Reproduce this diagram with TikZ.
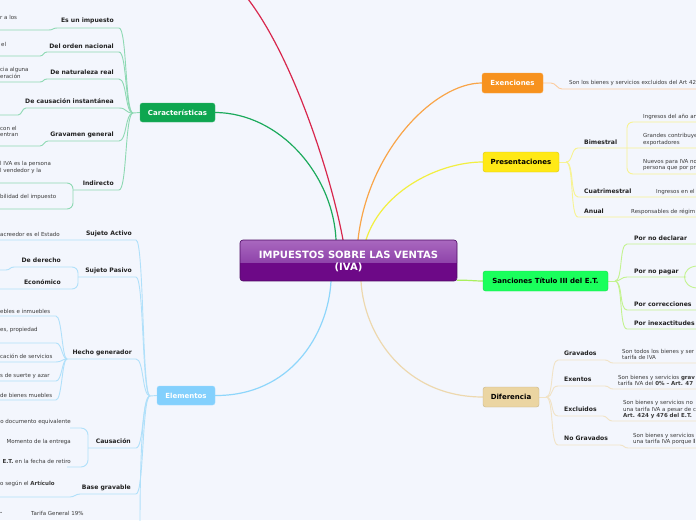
\documentclass[tikz,border=0pt]{standalone}
\usepackage{fontspec}
\setmainfont{DejaVu Sans}
\pgfdeclarelayer{back}
\pgfdeclarelayer{lines}
\pgfsetlayers{back,lines,main}
\definecolor{bgC}{HTML}{F3F6FD}
\definecolor{carC}{HTML}{0EA650}
\definecolor{carL}{HTML}{1CAA5C}
\definecolor{carS}{HTML}{8DD9B3}
\definecolor{eleC}{HTML}{83D0FD}
\definecolor{eleL}{HTML}{8ED6FB}
\definecolor{eleS}{HTML}{B0E0FA}
\definecolor{exeC}{HTML}{F7921E}
\definecolor{exeL}{HTML}{F9A548}
\definecolor{exeS}{HTML}{FCCB9C}
\definecolor{preC}{HTML}{FFE916}
\definecolor{preL}{HTML}{F2EF40}
\definecolor{preS}{HTML}{F7F392}
\definecolor{sanC}{HTML}{1AFF5C}
\definecolor{sanL}{HTML}{A9EF5C}
\definecolor{sanS}{HTML}{C3F38F}
\definecolor{difC}{HTML}{EBD5A2}
\definecolor{difL}{HTML}{EDD8AE}
\definecolor{difS}{HTML}{F1E3C6}
\definecolor{redL}{HTML}{D8274D}
\definecolor{rootTop}{HTML}{A968BF}
\definecolor{rootMid}{HTML}{8F44AA}
\definecolor{rootBot}{HTML}{6D0987}
\definecolor{rootBorder}{HTML}{4E0A63}
\definecolor{lblC}{HTML}{222222}
\definecolor{leafC}{HTML}{3A3A3A}
\tikzset{
  mnode/.style={rounded corners=2.5pt, inner sep=0pt, font=\bfseries\fontsize{7}{8}\selectfont},
  lbl/.style={inner sep=0pt, font=\bfseries\fontsize{6.1}{7}\selectfont, text=lblC, text height=4.5pt, text depth=1.3pt},
  lblL/.style={lbl, anchor=east},
  lblR/.style={lbl, anchor=west},
  leaf/.style={inner sep=0pt, font=\fontsize{5.5}{6.8}\selectfont, text=leafC, align=left, anchor=west},
  leafE/.style={leaf, anchor=east, align=right},
  mainline/.style={line width=1.2pt},
  subline/.style={line width=0.9pt}
}
\begin{document}
\begin{tikzpicture}[x=1pt,y=-1pt]
\begin{pgfonlayer}{back}
\fill[bgC] (0,0) rectangle (696,520);
\end{pgfonlayer}
\useasboundingbox (0,0) rectangle (696,520);

% ---------- root ----------
\node[minimum width=217pt, minimum height=41pt, inner sep=0pt] (root) at (348.5,260.5) {};
\begin{scope}
\clip[rounded corners=3pt] (240,240) rectangle (457,281);
\fill[rootBot] (240,240) rectangle (457,281);
\shade[top color=rootTop, bottom color=rootMid] (240,240) rectangle (457,262);
\end{scope}
\draw[rootBorder, rounded corners=3pt, line width=0.6pt] (240,240) rectangle (457,281);
\node[font=\bfseries\fontsize{10}{12}\selectfont, text=white, align=center, inner sep=0pt] (roottxt) at (348.5,261.5) {IMPUESTOS SOBRE LAS VENTAS\\(IVA)};

% ---------- main nodes ----------
\node[mnode, fill=carC, draw=carC!80!white, text=white, minimum width=75pt, minimum height=19pt] (car) at (177.5,112.5) {Características};
\node[mnode, fill=eleC, draw=eleC!80!white, text=white, minimum width=58pt, minimum height=19pt] (ele) at (186,395.5) {Elementos};
\node[mnode, fill=exeC, draw=exeC!80!white, text=white, minimum width=61pt, minimum height=20pt] (exe) at (512.5,83) {Exenciones};
\node[mnode, fill=preC, draw=preC!85!black, text=black, minimum width=76pt, minimum height=20pt] (pre) at (521,162) {Presentaciones};
\node[mnode, fill=sanC, draw=sanC!85!black, text=black, minimum width=125pt, minimum height=20pt] (san) at (545.5,281) {Sanciones Título III del E.T.};
\node[mnode, fill=difC, draw=difC!85!black, text=black, minimum width=56pt, minimum height=20pt] (dif) at (511,397) {Diferencia};

% ---------- main connectors ----------
\begin{pgfonlayer}{lines}
\coordinate (redend) at (244,-6);
\draw[mainline, redL] ([xshift=-5.5pt]root.north) .. controls (330,170) and (290,50) .. (redend);
\draw[mainline, carL] ([xshift=-12.5pt]root.north) .. controls (333,175) and (280,113) .. (car.east);
\draw[mainline, exeL] ([xshift=9.5pt]root.north) .. controls (368,150) and (435,83) .. (exe.west);
\draw[mainline, preL] ([xshift=17.5pt]root.north) .. controls (382,190) and (440,162) .. (pre.west);
\draw[mainline, sanL] ([yshift=1pt]root.south east) .. controls (468,280) and (474,281) .. (san.west);
\draw[mainline, difL] ([xshift=12.5pt]root.south) .. controls (364,335) and (405,397) .. (dif.west);
\draw[mainline, eleL] ([xshift=-17.5pt]root.south) .. controls (328,335) and (290,396) .. (ele.east);
\end{pgfonlayer}

% ---------- Caracteristicas ----------
\node[lblL] (c1) at (114,21) {Es un impuesto};
\node[lblL] (c2) at (114,47) {Del orden nacional};
\node[lblL] (c3) at (114,73) {De naturaleza real};
\node[lblL] (c4) at (114,102) {De causación instantánea};
\node[lblL] (c5) at (114,135) {Gravamen general};
\node[lblL] (c6) at (114,184) {Indirecto};
\node[leaf] (c1a) at (0,17) {r a los};
\node[leaf] (c2a) at (1,44) {el};
\node[leaf] (c3a) at (0,73) {cia alguna\\eración};
\node[leaf] (c5a) at (0,131.5) {con el\\entran};
\node[leaf] (c6a) at (0,167.5) {l IVA es la persona\\l vendedor y la};
\node[leaf] (c6b) at (0,197) {bilidad del impuesto};
\coordinate (cj) at (133,113);
\begin{pgfonlayer}{lines}
\draw[subline, carS] (car.west) -- (cj);
\draw[subline, carS] (cj) .. controls +(-8,0) and +(8,0) .. (119,28) -- (57,28) .. controls +(-4,0) and +(4,0) .. (49,30) -- (-2,30);
\draw[subline, carS] (cj) .. controls +(-8,0) and +(8,0) .. (119,52) -- (47,52) .. controls +(-4,0) and +(4,0) .. (40,56) -- (-2,56);
\draw[subline, carS] (cj) .. controls +(-8,0) and +(8,0) .. (119,79) -- (47,79) .. controls +(-4,0) and +(4,0) .. (40,82) -- (-2,82);
\draw[subline, carS] (cj) .. controls +(-8,0) and +(8,0) .. (119,108) -- (26,108) .. controls +(-4,0) and +(4,0) .. (18,115) -- (-2,115);
\draw[subline, carS] (cj) .. controls +(-8,0) and +(8,0) .. (119,141) -- (48,141) .. controls +(-4,0) and +(4,0) .. (40,146) -- (-2,146);
\draw[subline, carS] (cj) .. controls +(-8,0) and +(8,0) .. (119,190) -- (73,190);
\draw[subline, carS, rounded corners=6pt] (-2,183) -- (73,183) -- (73,209) -- (-2,209);
\end{pgfonlayer}

% ---------- Elementos ----------
\node[lblL] (e1) at (132,234) {Sujeto Activo};
\node[lblL] (e2) at (132,271) {Sujeto Pasivo};
\node[lblL] (e3) at (132,353) {Hecho generador};
\node[lblL] (e4) at (131,442) {Causación};
\node[lblL] (e5) at (131,488) {Base gravable};
\node[lblL] (e21) at (61,261) {De derecho};
\node[lblL] (e22) at (61,283) {Económico};
\node[leaf] (e1a) at (0,234) {acreedor es el Estado};
\node[leaf] (e3a) at (0,311) {ebles e inmuebles};
\node[leaf] (e3b) at (0,330) {es, propiedad};
\node[leaf] (e3c) at (0,356) {cación de servicios};
\node[leaf] (e3d) at (0,376) {s de suerte y azar};
\node[leaf] (e3e) at (0,395) {de bienes muebles};
\node[leafE] (e4a) at (71,422) {o documento equivalente};
\node[leafE] (e4b) at (71,442) {Momento de la entrega};
\node[leafE] (e4c) at (71,461) {\textbf{E.T.} en la fecha de retiro};
\node[leaf] (e5a) at (0,484) {o según el \textbf{Artículo}};
\node[leaf] (e6a) at (0,513) {\textbf{.}};
\node[leaf] (e6b) at (31,513) {Tarifa General 19\%};
\coordinate (ej) at (150,396);
\coordinate (ebot) at (140,525);
\begin{pgfonlayer}{lines}
\draw[subline, eleS] (ele.west) -- (ej);
\draw[subline, eleS] (ej) .. controls +(-8,0) and +(8,0) .. (136,240) -- (-2,240);
\draw[subline, eleS] (ej) .. controls +(-8,0) and +(8,0) .. (136,277) -- (78,277);
\draw[subline, eleS, rounded corners=6pt] (14,267) -- (78,267) -- (78,289) -- (-2,289);
\draw[subline, eleS] (14,267) .. controls +(-4,0) and +(4,0) .. (6,270) -- (-2,270);
\draw[subline, eleS] (ej) .. controls +(-8,0) and +(8,0) .. (136,359) -- (67,359);
\foreach \yy in {316,343,362,381,400}{
  \draw[subline, eleS] (67,359) .. controls +(-5,0) and +(6,0) .. (56,\yy) -- (-2,\yy);
}
\draw[subline, eleS] (ej) .. controls +(-8,0) and +(8,0) .. (136,448) -- (88,448);
\draw[subline, eleS, rounded corners=7pt] (70,428) -- (88,428) -- (88,467) -- (67,467);
\draw[subline, eleS] (ej) .. controls +(-8,0) and +(8,0) .. (136,494) -- (80,494) .. controls +(-4,0) and +(4,0) .. (70,497) -- (-2,497);
\draw[subline, eleS] (ej) .. controls +(-9,0) and +(0,-40) .. (ebot);
\end{pgfonlayer}

% ---------- Exenciones ----------
\node[leaf] (x1) at (569,83) {Son los bienes y servicios excluidos del Art 42};
\begin{pgfonlayer}{lines}
\draw[subline, exeS] (exe.east) -- (551,83) .. controls +(5,0) and +(-5,0) .. (562,89) -- (698,89);
\end{pgfonlayer}

% ---------- Presentaciones ----------
\node[lblR] (p1) at (584,143) {Bimestral};
\node[lblR] (p2) at (584,192) {Cuatrimestral};
\node[lblR] (p3) at (584,212) {Anual};
\node[leaf] (p1a) at (643,117) {Ingresos del año an};
\node[leaf] (p1b) at (643,139.5) {Grandes contribuye\\exportadores};
\node[leaf] (p1c) at (643,165) {Nuevos para IVA no\\persona que por pr};
\node[leaf] (p2a) at (656,192) {Ingresos en el};
\node[leaf] (p3a) at (631,212) {Responsables de régim};
\coordinate (pj) at (566,162);
\begin{pgfonlayer}{lines}
\draw[subline, preS] (pre.east) -- (pj);
\draw[subline, preS] (pj) .. controls +(7,0) and +(-7,0) .. (578,148) -- (698,148);
\draw[subline, preS] (pj) .. controls +(8,0) and +(-8,0) .. (578,197) -- (698,197);
\draw[subline, preS] (pj) .. controls +(8,0) and +(-8,0) .. (578,217) -- (698,217);
\draw[subline, preS, rounded corners=6pt] (698,122) -- (627,122) -- (627,174) -- (698,174);
\end{pgfonlayer}

% ---------- Sanciones ----------
\node[lblR] (s1) at (634,239) {Por no declarar};
\node[lblR] (s2) at (634,272) {Por no pagar};
\node[lblR] (s3) at (634,305) {Por correcciones};
\node[lblR] (s4) at (634,324) {Por inexactitudes};
\coordinate (sj) at (615,281);
\begin{pgfonlayer}{lines}
\draw[subline, sanS] (san.east) -- (sj);
\draw[subline, sanS] (sj) .. controls +(8,0) and +(-8,0) .. (627,244) -- (698,244);
\draw[subline, sanS] (sj) .. controls +(6,0) and +(-6,0) .. (627,277) -- (686,277);
\draw[subline, sanS] (698,266) .. controls (680,266) and (680,288) .. (698,288);
\draw[subline, sanS] (sj) .. controls +(8,0) and +(-8,0) .. (627,310) -- (698,310);
\draw[subline, sanS] (sj) .. controls +(8,0) and +(-8,0) .. (627,329) -- (698,329);
\end{pgfonlayer}

% ---------- Diferencia ----------
\node[lblR] (d1) at (564,354) {Gravados};
\node[lblR] (d2) at (564,380) {Exentos};
\node[lblR] (d3) at (564,410) {Excluidos};
\node[lblR] (d4) at (564,439) {No Gravados};
\node[leaf] (d1a) at (622,354.5) {Son todos los bienes y ser\\tarifa de IVA};
\node[leaf] (d2a) at (618,380.5) {Son bienes y servicios \textbf{grav}\\tarifa IVA del \textbf{0\% – Art. 47}};
\node[leaf] (d3a) at (623,409.5) {Son bienes y servicios no\\una tarifa IVA a pesar de c\\\textbf{Art. 424 y 476 del E.T.}};
\node[leaf] (d4a) at (633,439) {Son bienes y servicios\\una tarifa IVA porque \textbf{l}};
\coordinate (dj) at (546,397);
\begin{pgfonlayer}{lines}
\draw[subline, difS] (dif.east) -- (dj);
\draw[subline, difS] (dj) .. controls +(8,0) and +(-8,0) .. (558,360) -- (605,360) .. controls +(4,0) and +(-4,0) .. (613,363) -- (698,363);
\draw[subline, difS] (dj) .. controls +(8,0) and +(-8,0) .. (558,386) -- (605,386) .. controls +(4,0) and +(-4,0) .. (613,389) -- (698,389);
\draw[subline, difS] (dj) .. controls +(8,0) and +(-8,0) .. (558,416) -- (603,416) .. controls +(4,0) and +(-4,0) .. (612,421) -- (698,421);
\draw[subline, difS] (dj) .. controls +(8,0) and +(-8,0) .. (558,445) -- (620,445) .. controls +(4,0) and +(-4,0) .. (628,448) -- (698,448);
\end{pgfonlayer}
\end{tikzpicture}
\end{document}
